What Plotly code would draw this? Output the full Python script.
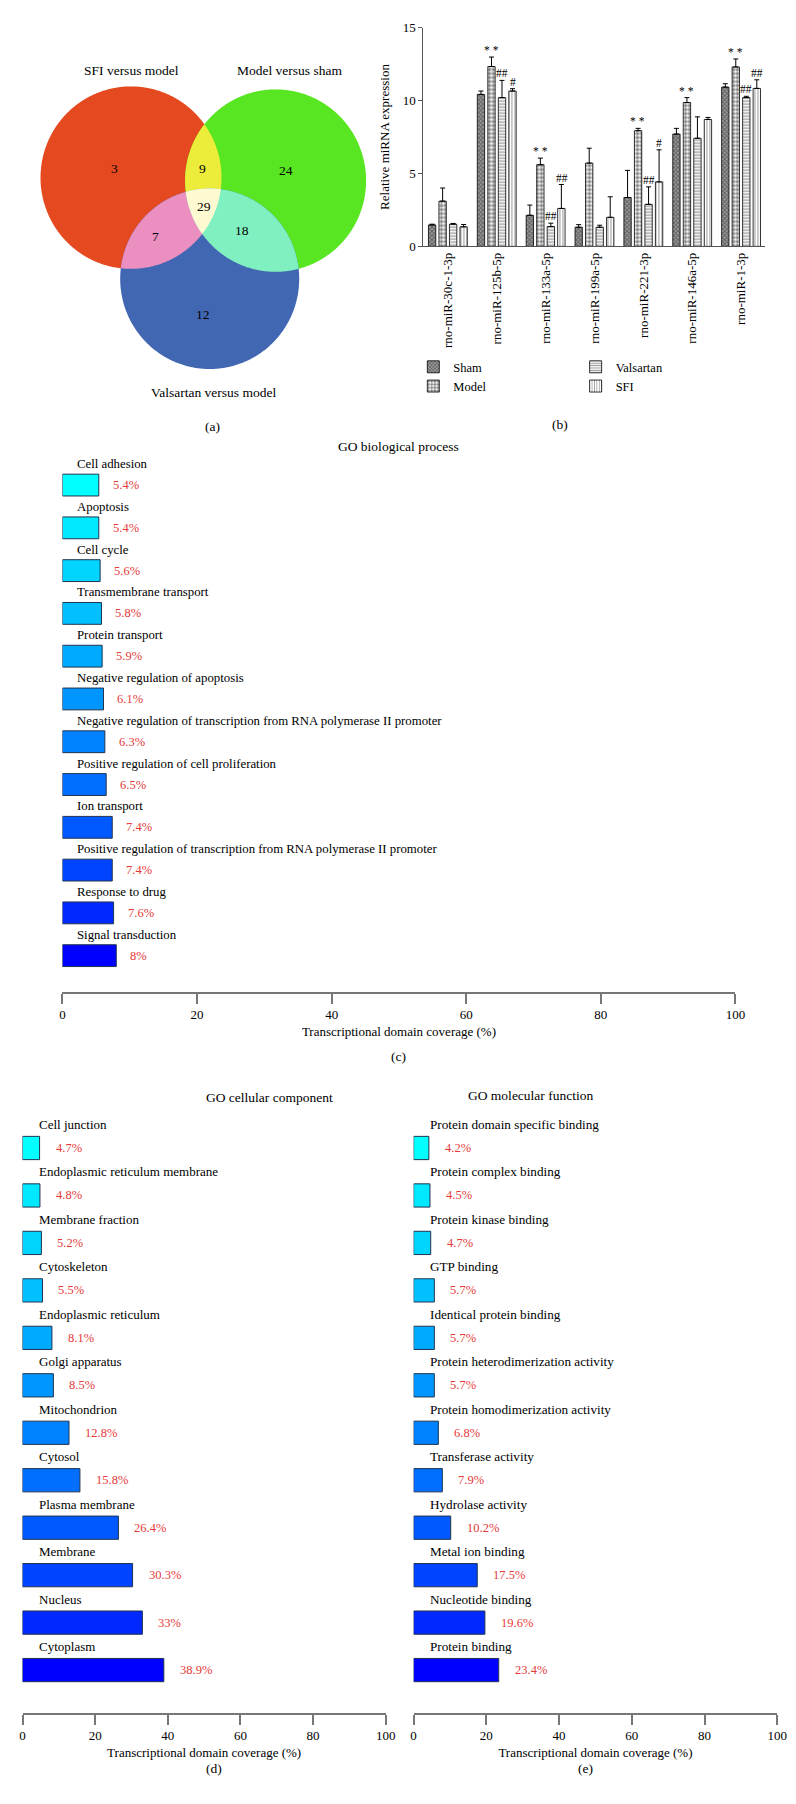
import numpy as np
import plotly.graph_objects as go

W, H = 796, 1804
FONT = "Liberation Serif"

# ---------------- data ----------------
venn_set_labels = ["SFI versus model", "Model versus sham", "Valsartan versus model"]
venn_regions = ["A", "AB", "B", "ABC", "AC", "BC", "C"]
venn_counts = [3, 9, 24, 29, 7, 18, 12]

mirnas = ["rno-miR-30c-1-3p", "rno-miR-125b-5p", "rno-miR-133a-5p", "rno-miR-199a-5p",
          "rno-miR-221-3p", "rno-miR-146a-5p", "rno-miR-1-3p"]
groups = ["Sham", "Model", "Valsartan", "SFI"]
sham = [1.47, 10.42, 2.13, 1.31, 3.35, 7.70, 10.92]
sham_err = [0.05, 0.23, 0.70, 0.18, 1.86, 0.39, 0.23]
model = [3.10, 12.33, 5.60, 5.71, 7.93, 9.86, 12.30]
model_err = [0.90, 0.65, 0.45, 1.02, 0.16, 0.34, 0.55]
valsartan = [1.52, 10.20, 1.36, 1.31, 2.88, 7.41, 10.20]
valsartan_err = [0.05, 1.18, 0.23, 0.14, 1.20, 1.47, 0.09]
sfi = [1.34, 10.65, 2.60, 1.99, 4.42, 8.70, 10.83]
sfi_err = [0.16, 0.16, 1.64, 1.41, 2.20, 0.14, 0.59]
sham_sig = ["", "", "", "", "", "", ""]
model_sig = ["", "* *", "* *", "", "* *", "* *", "* *"]
valsartan_sig = ["", "##", "##", "", "##", "", "##"]
sfi_sig = ["", "#", "##", "", "#", "", "##"]

bp_terms = ["Cell adhesion", "Apoptosis", "Cell cycle", "Transmembrane transport", "Protein transport",
            "Negative regulation of apoptosis",
            "Negative regulation of transcription from RNA polymerase II promoter",
            "Positive regulation of cell proliferation", "Ion transport",
            "Positive regulation of transcription from RNA polymerase II promoter",
            "Response to drug", "Signal transduction"]
bp_values = [5.4, 5.4, 5.6, 5.8, 5.9, 6.1, 6.3, 6.5, 7.4, 7.4, 7.6, 8]

cc_terms = ["Cell junction", "Endoplasmic reticulum membrane", "Membrane fraction", "Cytoskeleton",
            "Endoplasmic reticulum", "Golgi apparatus", "Mitochondrion", "Cytosol", "Plasma membrane",
            "Membrane", "Nucleus", "Cytoplasm"]
cc_values = [4.7, 4.8, 5.2, 5.5, 8.1, 8.5, 12.8, 15.8, 26.4, 30.3, 33, 38.9]

mf_terms = ["Protein domain specific binding", "Protein complex binding", "Protein kinase binding",
            "GTP binding", "Identical protein binding", "Protein heterodimerization activity",
            "Protein homodimerization activity", "Transferase activity", "Hydrolase activity",
            "Metal ion binding", "Nucleotide binding", "Protein binding"]
mf_values = [4.2, 4.5, 4.7, 5.7, 5.7, 5.7, 6.8, 7.9, 10.2, 17.5, 19.6, 23.4]

x_ticks = [0, 20, 40, 60, 80, 100]
y_ticks_b = [0, 5, 10, 15]

# ---------------- styles ----------------
bar_colors = ["#00ffff", "#00e8ff", "#00d4ff", "#00c0ff", "#00aaff", "#0096ff",
              "#0082ff", "#006eff", "#0058ff", "#0044ff", "#0028ff", "#0000ff"]
RED = "#e53939"
AXC = "#777777"


def px(x):
    return x / W


def py(y):
    return 1 - y / H


fig = go.Figure()

# ---------------- (a) Venn ----------------
circles = [(122, 164, 92), (269, 167, 92), (202, 266, 91)]
circle_colors = ["#e5491f", "#58e622", "#4167b3"]
overlap_colors = {"AB": "#ecec3a", "AC": "#ea8fbf", "BC": "#80f0c0", "ABC": "#fdfad2"}


def circle_pts(cx, cy, r, n=720):
    t = np.linspace(0, 2 * np.pi, n, endpoint=False)
    return cx + r * np.cos(t), cy + r * np.sin(t)


def intersection(idx):
    xs, ys = [], []
    for i in idx:
        x, y = circle_pts(*circles[i])
        m = np.ones_like(x, dtype=bool)
        for j in idx:
            if j != i:
                cx, cy, r = circles[j]
                m &= (x - cx) ** 2 + (y - cy) ** 2 <= r ** 2
        xs.append(x[m]); ys.append(y[m])
    x = np.concatenate(xs); y = np.concatenate(ys)
    o = np.argsort(np.arctan2(y - y.mean(), x - x.mean()))
    return x[o], y[o]


for c, col in zip(circles, circle_colors):
    x, y = circle_pts(*c)
    fig.add_trace(go.Scatter(x=x, y=y, fill="toself", fillcolor=col, mode="none",
                             xaxis="x", yaxis="y", showlegend=False, hoverinfo="skip"))
letters = "ABC"
for key in ["AB", "AC", "BC", "ABC"]:
    x, y = intersection([letters.index(ch) for ch in key])
    fig.add_trace(go.Scatter(x=x, y=y, fill="toself", fillcolor=overlap_colors[key], mode="none",
                             xaxis="x", yaxis="y", showlegend=False, hoverinfo="skip"))

venn_label_pos = [(122, 56), (283, 56), (206, 381)]
venn_count_pos = {"A": (105, 155), "AB": (195, 155), "B": (280, 157), "ABC": (196, 193),
                  "AC": (147, 223), "BC": (235, 217), "C": (195, 302)}
annotations = []
for lab, (x, y) in zip(venn_set_labels, venn_label_pos):
    annotations.append(dict(x=x, y=y, xref="x", yref="y", text=lab, showarrow=False,
                            font=dict(family=FONT, size=13.5, color="black")))
for reg, cnt in zip(venn_regions, venn_counts):
    x, y = venn_count_pos[reg]
    annotations.append(dict(x=x, y=y, xref="x", yref="y", text=str(cnt), showarrow=False,
                            font=dict(family=FONT, size=13.5, color="black")))

# ---------------- (b) grouped bars ----------------
series = [sham, model, valsartan, sfi]
errs = [sham_err, model_err, valsartan_err, sfi_err]
sigs = [sham_sig, model_sig, valsartan_sig, sfi_sig]
patterns = [
    dict(shape="x", size=3, solidity=0.5, fgcolor="#222222", bgcolor="#9a9a9a"),
    dict(shape=".", size=4, solidity=0.6, fgcolor="#000000", bgcolor="#ffffff"),
    dict(shape="-", size=3, solidity=0.45, fgcolor="#333333", bgcolor="#ffffff"),
    dict(shape="|", size=3, solidity=0.35, fgcolor="#333333", bgcolor="#ffffff"),
]
legend_ids = ["legend", "legend", "legend2", "legend2"]
for name, vals, er, pat, lg in zip(groups, series, errs, patterns, legend_ids):
    fig.add_trace(go.Bar(
        x=mirnas, y=vals, name=name, xaxis="x2", yaxis="y2", legend=lg,
        marker=dict(color=pat["bgcolor"], pattern=pat, line=dict(color="black", width=0.8)),
        error_y=dict(type="data", symmetric=False, array=er, arrayminus=[0] * len(er),
                     color="black", thickness=1, width=2.5),
    ))

bgap = 0.14
cat_px = (767 - 419.3) / len(mirnas)
slot = cat_px * (1 - bgap) / len(groups)
for k, (vals, er, sg) in enumerate(zip(series, errs, sigs)):
    off = (k - (len(groups) - 1) / 2) * slot
    for m, v, e, s in zip(mirnas, vals, er, sg):
        if s:
            annotations.append(dict(x=m, y=v + e, xref="x2", yref="y2", text=s, showarrow=False,
                                    xshift=off, yanchor="bottom", yshift=-1,
                                    font=dict(family=FONT, size=11.5, color="black")))

# ---------------- (c)(d)(e) GO bars ----------------
def go_panel(terms, vals, xa, ya, label_dx, label_dy, val_dx, fsize, width):
    n = len(terms)
    fig.add_trace(go.Bar(x=vals, y=list(range(n)), orientation="h", width=width,
                         marker=dict(color=bar_colors[:n], line=dict(color="#22344f", width=1)),
                         xaxis=xa, yaxis=ya, showlegend=False, hoverinfo="skip"))
    for i, (t, v) in enumerate(zip(terms, vals)):
        annotations.append(dict(x=0, y=i, xref=xa, yref=ya, text=t, showarrow=False,
                                xanchor="left", yanchor="middle", xshift=label_dx, yshift=label_dy,
                                font=dict(family=FONT, size=fsize, color="black")))
        annotations.append(dict(x=v, y=i, xref=xa, yref=ya, text=f"{v:g}%", showarrow=False,
                                xanchor="left", yanchor="middle", xshift=val_dx,
                                font=dict(family=FONT, size=12.5, color=RED)))


go_panel(bp_terms, bp_values, "x3", "y3", 13, 21, 12, 12.8, 0.51)
go_panel(cc_terms, cc_values, "x4", "y4", 14, 23.5, 14, 13, 0.49)
go_panel(mf_terms, mf_values, "x5", "y5", 14.5, 23.5, 14, 13.2, 0.49)

# ---------------- paper text ----------------
paper_texts = [("(a)", 195, 405), ("(b)", 568, 403), ("GO biological process", 394, 426),
               ("(c)", 394, 1050), ("GO cellular component", 196, 1092),
               ("GO molecular function", 594, 1090), ("(d)", 196, 1778), ("(e)", 594, 1778)]
for t, x, y in paper_texts:
    annotations.append(dict(x=px(x), y=py(y), xref="paper", yref="paper", text=t, showarrow=False,
                            font=dict(family=FONT, size=13.5, color="black")))


def go_xaxis(x0, x1, anchor):
    return dict(domain=[px(x0), px(x1)], range=[0, 100], tickvals=x_ticks, ticks="outside",
                ticklen=10, tickwidth=1.5, tickcolor=AXC, showline=True, linecolor=AXC,
                linewidth=1.5, showgrid=False, zeroline=False, anchor=anchor,
                tickfont=dict(family=FONT, size=13, color="black"),
                title=dict(text="Transcriptional domain coverage (%)", standoff=6,
                           font=dict(family=FONT, size=13, color="black")))


def go_yaxis(top, bottom, first_c, step, n, anchor):
    lo = -(first_c - top) / step
    hi = (n - 1) + (bottom - (first_c + (n - 1) * step)) / step
    return dict(domain=[py(bottom), py(top)], range=[hi, lo], visible=False, anchor=anchor)


fig.update_layout(
    width=W, height=H, margin=dict(l=0, r=0, t=0, b=0),
    paper_bgcolor="white", plot_bgcolor="white",
    font=dict(family=FONT, color="black"),
    barmode="group", bargap=bgap, bargroupgap=0.3,
    xaxis=dict(domain=[0, px(400)], range=[0, 400], visible=False, anchor="y"),
    yaxis=dict(domain=[py(400), 1], range=[400, 0], visible=False, anchor="x"),
    xaxis2=dict(domain=[px(419.3), px(767)], type="category", showline=True, linecolor="#555",
                linewidth=1.3, ticks="", tickangle=-90, anchor="y2", showgrid=False,
                tickfont=dict(family=FONT, size=13, color="black")),
    yaxis2=dict(domain=[py(233.3), py(12.7)], range=[0, 15], tickvals=y_ticks_b, ticks="outside",
                ticklen=4, tickcolor="#555", showline=True, linecolor="#555", linewidth=1.3,
                showgrid=False, zeroline=False, anchor="x2",
                tickfont=dict(family=FONT, size=13, color="black"),
                title=dict(text="Relative miRNA expression", standoff=10,
                           font=dict(family=FONT, size=13, color="black"))),
    xaxis3=go_xaxis(52.3, 736.5, "y3"),
    yaxis3=go_yaxis(440, 985, 474, 43.14, len(bp_terms), "x3"),
    xaxis4=go_xaxis(11.7, 381, "y4"),
    yaxis4=go_yaxis(1105, 1712, 1142.5, 47.86, len(cc_terms), "x4"),
    xaxis5=go_xaxis(409.3, 779, "y5"),
    yaxis5=go_yaxis(1105, 1712, 1142.5, 47.86, len(mf_terms), "x5"),
    legend=dict(x=px(409), y=py(340), xanchor="left", yanchor="top", orientation="v",
                bgcolor="rgba(0,0,0,0)", font=dict(family=FONT, size=12.5, color="black"),
                tracegroupgap=0, itemwidth=30),
    legend2=dict(x=px(574), y=py(340), xanchor="left", yanchor="top", orientation="v",
                 bgcolor="rgba(0,0,0,0)", font=dict(family=FONT, size=12.5, color="black"),
                 tracegroupgap=0, itemwidth=30),
    annotations=annotations,
)

fig.write_html("out.html")
